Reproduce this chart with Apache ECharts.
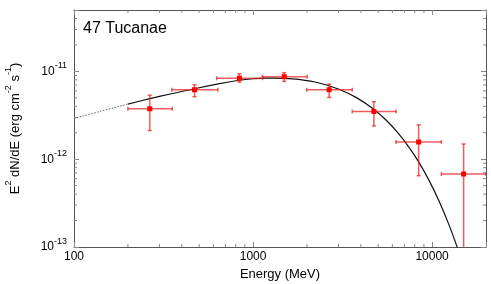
<!DOCTYPE html>
<html><head><meta charset="utf-8">
<script src="https://cdn.jsdelivr.net/npm/echarts@6/dist/echarts.min.js"></script>
<style>html,body{margin:0;padding:0;background:#fff}#c{width:491px;height:284px}</style>
</head><body><div id="c"></div>
<script>
// ---- data ----
const energy   = [265, 471, 839, 1493, 2661, 4730, 8410, 15000];
const flux     = [3.75e-12, 6.18e-12, 8.37e-12, 8.69e-12, 6.18e-12, 3.49e-12, 1.57e-12, 6.78e-13];
const energyLo = [200, 352, 627, 1130, 1995, 3580, 6280, 11270];
const energyHi = [354, 636, 1130, 2005, 3580, 6300, 11270, 20000];
const fluxLo   = [2.12e-12, 5.14e-12, 7.55e-12, 7.69e-12, 5.04e-12, 2.39e-12, 6.48e-13, 1e-14];
const fluxHi   = [5.36e-12, 7.05e-12, 9.4e-12, 9.66e-12, 7.16e-12, 4.51e-12, 2.46e-12, 1.49e-12];

const modelE = [200, 265, 350, 471, 650, 837, 1000, 1155, 1300, 1493, 1800, 2340, 3020, 3800, 4700, 5600, 6500, 7500, 8410, 9500, 10900, 12400, 14060, 15000];
const modelF = [4.24e-12, 4.89e-12, 5.56e-12, 6.34e-12, 7.26e-12, 7.93e-12, 8.24e-12, 8.36e-12, 8.39e-12, 8.34e-12, 8.09e-12, 7.38e-12, 6.26e-12, 4.99e-12, 3.72e-12, 2.72e-12, 1.95e-12, 1.33e-12, 9.31e-13, 6.01e-13, 3.39e-13, 1.81e-13, 8.97e-14, 6.0e-14];
const extrapE = [100, 150, 200];
const extrapF = [2.91e-12, 3.64e-12, 4.24e-12];

const xTickLabels = ['100', '1000', '10000'];
const yTickExponents = [-13, -12, -11];
const xMinorTicks = [200, 300, 400, 500, 600, 700, 800, 900, 2000, 3000, 4000, 5000, 6000, 7000, 8000, 9000];
const yMinorTicks = [2e-13, 3e-13, 4e-13, 5e-13, 6e-13, 7e-13, 8e-13, 9e-13, 2e-12, 3e-12, 4e-12, 5e-12, 6e-12, 7e-12, 8e-12, 9e-12, 2e-11, 3e-11, 4e-11];

const X_MIN = 100, X_MAX = 20000, Y_MIN = 1e-13, Y_MAX = 5e-11;
const FONT = '"Liberation Sans", Arial, sans-serif';

const points = energy.map((e, i) => [e, flux[i], energyLo[i], energyHi[i], fluxLo[i], fluxHi[i]]);
const minorData = xMinorTicks.map(v => [v, Y_MIN, 0]).concat(yMinorTicks.map(v => [X_MIN, v, 1]));

function xFmt(v) {
  const ex = Math.round(Math.log10(v));
  if (Math.abs(v / Math.pow(10, ex) - 1) < 1e-6) {
    const s = String(Math.round(Math.pow(10, ex)));
    return xTickLabels.indexOf(s) >= 0 ? s : '';
  }
  return '';
}
function yFmt(v) {
  const ex = Math.round(Math.log10(v));
  if (Math.abs(v / Math.pow(10, ex) - 1) < 1e-6 && yTickExponents.indexOf(ex) >= 0) {
    return '{b|10}{s|' + ex + '}';
  }
  return '';
}

const axisLineStyle = { color: '#555', width: 1 };
const tickStyle = { color: '#888', width: 1 };

const chart = echarts.init(document.getElementById('c'), null, { renderer: 'canvas' });
chart.setOption({
  animation: false,
  backgroundColor: '#fff',
  textStyle: { fontFamily: FONT },
  title: {
    text: '47 Tucanae', left: 83, top: 21, padding: 0,
    textStyle: { fontFamily: FONT, fontSize: 16, fontWeight: 'normal', color: '#000' }
  },
  grid: { left: 74, right: 5, top: 10, bottom: 37, containLabel: false, outerBoundsMode: 'none' },
  xAxis: [{
    type: 'log', logBase: 10, min: X_MIN, max: X_MAX, position: 'bottom',
    axisLine: { lineStyle: axisLineStyle },
    axisTick: { inside: true, length: 5, lineStyle: tickStyle },
    axisLabel: { formatter: xFmt, fontSize: 12, color: '#000', margin: 4, fontFamily: FONT, hideOverlap: false },
    splitLine: { show: false },
    name: 'Energy (MeV)', nameLocation: 'middle', nameGap: 21,
    nameTextStyle: { fontSize: 13, color: '#000', fontFamily: FONT }
  }, {
    type: 'log', logBase: 10, min: X_MIN, max: X_MAX, position: 'top',
    axisLine: { lineStyle: axisLineStyle },
    axisTick: { inside: true, length: 5, lineStyle: tickStyle },
    axisLabel: { show: false }, splitLine: { show: false }
  }],
  yAxis: [{
    type: 'log', logBase: 10, min: Y_MIN, max: Y_MAX, position: 'left',
    axisLine: { show: true, lineStyle: axisLineStyle },
    axisTick: { show: true, inside: true, length: 5, lineStyle: tickStyle },
    axisLabel: {
      formatter: yFmt, margin: 7, color: '#000', fontFamily: FONT,
      rich: {
        b: { fontSize: 12, lineHeight: 20, color: '#000', fontFamily: FONT },
        s: { fontSize: 9, lineHeight: 9, verticalAlign: 'top', color: '#000', fontFamily: FONT }
      }
    },
    splitLine: { show: false },
    name: '{n|E}{s|2}{n| dN/dE (erg cm}{s|-2}{n| s}{s|-1}{n|)}',
    nameLocation: 'middle', nameGap: 48,
    nameTextStyle: {
      color: '#000', fontFamily: FONT,
      rich: {
        n: { fontSize: 13, lineHeight: 22, color: '#000', fontFamily: FONT },
        s: { fontSize: 9, lineHeight: 9, verticalAlign: 'top', color: '#000', fontFamily: FONT }
      }
    }
  }, {
    type: 'log', logBase: 10, min: Y_MIN, max: Y_MAX, position: 'right',
    axisLine: { show: true, lineStyle: axisLineStyle },
    axisTick: { show: true, inside: true, length: 5, lineStyle: tickStyle },
    axisLabel: { show: false }, splitLine: { show: false }
  }],
  series: [{
    type: 'custom', name: 'minor', silent: true, z: 1,
    xAxisIndex: 0, yAxisIndex: 0,
    data: minorData,
    renderItem: function (params, api) {
      const kind = api.value(2);
      const L = 3;
      if (kind === 0) {
        const b = api.coord([api.value(0), Y_MIN]);
        const t = api.coord([api.value(0), Y_MAX]);
        return { type: 'group', children: [
          { type: 'line', shape: { x1: b[0], y1: b[1], x2: b[0], y2: b[1] - L }, style: { stroke: '#888', lineWidth: 1 } },
          { type: 'line', shape: { x1: t[0], y1: t[1], x2: t[0], y2: t[1] + L }, style: { stroke: '#888', lineWidth: 1 } }
        ]};
      } else {
        const l = api.coord([X_MIN, api.value(1)]);
        const r = api.coord([X_MAX, api.value(1)]);
        return { type: 'group', children: [
          { type: 'line', shape: { x1: l[0], y1: l[1], x2: l[0] + L, y2: l[1] }, style: { stroke: '#888', lineWidth: 1 } },
          { type: 'line', shape: { x1: r[0], y1: r[1], x2: r[0] - L, y2: r[1] }, style: { stroke: '#888', lineWidth: 1 } }
        ]};
      }
    }
  }, {
    type: 'line', name: 'extrapolation', data: extrapE.map((e, i) => [e, extrapF[i]]),
    showSymbol: false, symbol: 'none', smooth: false, z: 3,
    lineStyle: { color: '#666', width: 1, type: [1.5, 1.5] }
  }, {
    type: 'line', name: 'model', data: modelE.map((e, i) => [e, modelF[i]]),
    showSymbol: false, symbol: 'none', smooth: 0.2, clip: true, z: 3,
    lineStyle: { color: '#111', width: 1.2 }
  }, {
    type: 'custom', name: 'points', clip: true, z: 4,
    data: points,
    encode: { x: 0, y: 1 },
    renderItem: function (params, api) {
      const c = api.coord([api.value(0), api.value(1)]);
      const xl = api.coord([api.value(2), api.value(1)])[0];
      const xh = api.coord([api.value(3), api.value(1)])[0];
      const yl = api.coord([api.value(0), api.value(4)])[1];
      const yh = api.coord([api.value(0), api.value(5)])[1];
      const st = { stroke: 'rgba(232,30,30,0.72)', lineWidth: 1.5 };
      const cap = 2;
      return { type: 'group', children: [
        { type: 'line', shape: { x1: xl, y1: c[1], x2: xh, y2: c[1] }, style: st },
        { type: 'line', shape: { x1: c[0], y1: yl, x2: c[0], y2: yh }, style: st },
        { type: 'line', shape: { x1: xl, y1: c[1] - cap, x2: xl, y2: c[1] + cap }, style: st },
        { type: 'line', shape: { x1: xh, y1: c[1] - cap, x2: xh, y2: c[1] + cap }, style: st },
        { type: 'line', shape: { x1: c[0] - cap, y1: yl, x2: c[0] + cap, y2: yl }, style: st },
        { type: 'line', shape: { x1: c[0] - cap, y1: yh, x2: c[0] + cap, y2: yh }, style: st },
        { type: 'rect', shape: { x: c[0] - 2.5, y: c[1] - 2.5, width: 5, height: 5 }, style: { fill: '#ff0000' } }
      ]};
    }
  }]
});
</script>
</body></html>
